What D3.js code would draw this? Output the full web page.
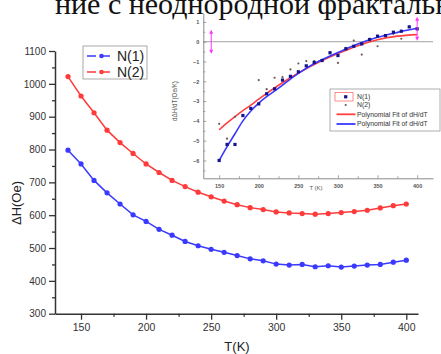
<!DOCTYPE html>
<html><head><meta charset="utf-8">
<script src="https://cdn.jsdelivr.net/npm/d3@7"></script>
<style>body{margin:0;background:#fff}svg{display:block}</style>
</head><body>
<svg id="c" width="441" height="354"></svg>
<script>
// ---------- data ----------
const temps = [140,150,160,170,180,190,200,210,220,230,240,250,260,270,280,290,300,310,320,330,340,350,360,370,380,390,400];
const n1 = [798,756,706,668,634,601,581,557,539,520,507,496,487,477,467,461,451,448,450,443,446,442,445,448,450,457,463];
const n2 = [1022,963,912,859,821,788,756,730,706,687,670,656,643,632,623,617,610,607,605,603,605,608,611,615,622,629,634];
const xTicks = [150,200,250,300,350,400];
const yTicks = [300,400,500,600,700,800,900,1000,1100];
const seriesNames = ["N(1)","N(2)"];

const dTemps = [150,160,170,180,190,200,210,220,230,240,250,260,270,280,290,300,310,320,330,340,350,360,370,380,390,400];
const d1 = [-6.0,-5.19,-5.19,-3.73,-3.37,-3.14,-2.63,-2.38,-1.94,-1.75,-1.52,-1.22,-1.05,-0.95,-0.56,-0.70,-0.36,-0.23,-0.11,0.11,0.28,0.31,0.48,0.53,0.75,0.65];
const d2 = [-4.15,-4.9,-3.79,-3.7,-3.35,-1.94,-2.4,-1.82,-1.79,-1.40,-1.10,-0.98,-0.98,-0.95,-0.53,-1.07,-0.31,0.06,-0.65,0.15,-0.23,0.28,0.40,0.15,0.75,0.62];
const fitT = [150,160,170,180,190,200,225,250,275,300,325,350,375,400];
const fitBlue = [-6.0,-5.3,-4.65,-4.0,-3.5,-3.1,-2.35,-1.6,-1.0,-0.55,-0.12,0.22,0.47,0.68];
const fitRed  = [-4.45,-4.1,-3.78,-3.48,-3.2,-2.9,-2.2,-1.58,-1.05,-0.6,-0.2,0.1,0.28,0.36];
const insetXTicks = [150,200,250,300,350,400];
const insetYTicks = [-6,-5,-4,-3,-2,-1,0,1];
const insetLegend = ["N(1)","N(2)","Polynomial Fit of dH/dT","Polynomial Fit of dH/dT"];
const cursorT = [140,400];
const cursorV = [0,0.65];

const title = "ние с неоднородной фрактальной";

// ---------- drawing ----------
const svg = d3.select("#c");
const BLUE = "#3a3aff", RED = "#ff3a3a";

// title (cut off at top)
svg.append("text").attr("x",55).attr("y",14)
  .attr("font-family","'Liberation Serif','Times New Roman',serif")
  .attr("font-size",30).attr("fill","#111").text(title);

// main scales
const x = d3.scaleLinear().domain([130,409]).range([55,418]);
const y = d3.scaleLinear().domain([300,1100]).range([313.7,51]);

const axisColor = "#333";
const fmt = d3.format("d");
const gx = svg.append("g").attr("transform","translate(0,313.7)");
gx.call(d3.axisBottom(x).tickValues(d3.range(175,409,50)).tickSize(3).tickFormat(""));
gx.call(g=>g.select(".domain").remove());
const gx2 = svg.append("g").attr("transform","translate(0,313.7)")
  .call(d3.axisBottom(x).tickValues(xTicks).tickFormat(fmt).tickSize(6).tickPadding(4).tickSizeOuter(0));
const gy0 = svg.append("g").attr("transform","translate(55,0)")
  .call(d3.axisLeft(y).tickValues(d3.range(350,1100,100)).tickSize(3).tickFormat(""));
gy0.select(".domain").remove();
const gy = svg.append("g").attr("transform","translate(55,0)")
  .call(d3.axisLeft(y).tickValues(yTicks).tickFormat(fmt).tickSize(6).tickPadding(3).tickSizeOuter(0));
[gx,gx2,gy0,gy].forEach(g=>{
  g.selectAll("line").attr("stroke",axisColor).attr("stroke-width",1.3);
  g.selectAll(".domain").attr("stroke",axisColor).attr("stroke-width",1.5);
  g.selectAll("text").attr("font-family","Arial,'Liberation Sans',sans-serif").attr("font-size",10.5).attr("fill","#333");
});
gy.selectAll("text").attr("font-size",10);

// axis labels
svg.append("text").attr("x",237).attr("y",351).attr("text-anchor","middle")
  .attr("font-family","Arial,'Liberation Sans',sans-serif").attr("font-size",13).attr("fill","#222").text("T(K)");
svg.append("text").attr("transform","translate(21,203) rotate(-90)").attr("text-anchor","middle")
  .attr("font-family","Arial,'Liberation Sans',sans-serif").attr("font-size",13).attr("fill","#222").text("ΔH(Oe)");

// series
const line = d3.line().x((d,i)=>x(temps[i])).y(d=>y(d));
[[n1,BLUE],[n2,RED]].forEach(([s,c])=>{
  svg.append("path").datum(s).attr("d",line).attr("fill","none").attr("stroke",c).attr("stroke-width",1.5);
  svg.append("g").selectAll("circle").data(s).join("circle")
    .attr("cx",(d,i)=>x(temps[i])).attr("cy",d=>y(d)).attr("r",2.6).attr("fill",c);
});

// main legend
const lg = svg.append("g");
lg.append("rect").attr("x",83).attr("y",46).attr("width",64).attr("height",33)
  .attr("fill","#fff").attr("stroke","#aaa").attr("stroke-width",1);
seriesNames.forEach((nm,i)=>{
  const yy = 56 + i*16, c = i? RED : BLUE;
  lg.append("line").attr("x1",87).attr("x2",115).attr("y1",yy).attr("y2",yy)
    .attr("stroke",c).attr("stroke-width",1.4).attr("stroke-dasharray","9,5");
  lg.append("circle").attr("cx",101.5).attr("cy",yy).attr("r",2.3).attr("fill",c);
  lg.append("text").attr("x",117).attr("y",yy+5).attr("font-family","Arial,'Liberation Sans',sans-serif")
    .attr("font-size",14).attr("fill","#222").text(nm);
});

// ---------- inset ----------
const ix = d3.scaleLinear().domain([130,420]).range([203.3,433]);
const iy = d3.scaleLinear().domain([-6.9,1.45]).range([178.3,13]);
const ig = svg.append("g");
const IAX = "#8a8a8a";
ig.append("line").attr("x1",ix(130)).attr("x2",ix(420)).attr("y1",iy(0)).attr("y2",iy(0))
  .attr("stroke","#b5b5b5").attr("stroke-width",1.3);
const igx0 = ig.append("g").attr("transform","translate(0,178.3)")
  .call(d3.axisBottom(ix).tickValues(d3.range(175,420,50)).tickSize(-2).tickFormat(""));
igx0.select(".domain").remove();
const igx = ig.append("g").attr("transform","translate(0,178.3)")
  .call(d3.axisBottom(ix).tickValues(insetXTicks).tickFormat(fmt).tickSize(-3).tickPadding(6).tickSizeOuter(0));
const igy0 = ig.append("g").attr("transform","translate(203.3,0)")
  .call(d3.axisLeft(iy).tickValues(d3.range(-6.5,1.45,1)).tickSize(-2).tickFormat(""));
igy0.select(".domain").remove();
const igy = ig.append("g").attr("transform","translate(203.3,0)")
  .call(d3.axisLeft(iy).tickValues(insetYTicks).tickFormat(fmt).tickSize(-3).tickPadding(4).tickSizeOuter(0));
[igx0,igx,igy0,igy].forEach(g=>{
  g.selectAll("line").attr("stroke",IAX).attr("stroke-width",0.8);
  g.selectAll(".domain").attr("stroke",IAX).attr("stroke-width",1);
  g.selectAll("text").attr("font-family","Arial,'Liberation Sans',sans-serif").attr("font-size",5.5)
    .attr("font-weight","bold").attr("fill","#555");
});
ig.append("text").attr("x",316).attr("y",190).attr("text-anchor","middle")
  .attr("font-family","Arial,'Liberation Sans',sans-serif").attr("font-size",6).attr("fill","#555").text("T (K)");
ig.append("text").attr("transform","translate(177,101) rotate(-90)").attr("text-anchor","middle")
  .attr("font-family","Arial,'Liberation Sans',sans-serif").attr("font-size",6.3).attr("fill","#555").text("dΔH/dT(Oe/K)");

const fitLine = d3.line().x((d,i)=>ix(fitT[i])).y(d=>iy(d)).curve(d3.curveMonotoneX);
ig.append("path").datum(fitRed).attr("d",fitLine).attr("fill","none").attr("stroke","#ff4040").attr("stroke-width",1.6);
ig.append("path").datum(fitBlue).attr("d",fitLine).attr("fill","none").attr("stroke","#3838ff").attr("stroke-width",1.6);
ig.append("g").selectAll("circle").data(d2).join("circle")
  .attr("cx",(d,i)=>ix(dTemps[i])).attr("cy",d=>iy(d)).attr("r",1.1).attr("fill","#6e5555");
ig.append("g").selectAll("rect").data(d1).join("rect")
  .attr("x",(d,i)=>ix(dTemps[i])-1.6).attr("y",d=>iy(d)-1.6).attr("width",3.2).attr("height",3.2).attr("fill","#14148c");

cursorT.forEach((t,i)=>{
  const cx = ix(t), cy = iy(cursorV[i]);
  ig.append("line").attr("x1",cx).attr("x2",cx).attr("y1",cy-10).attr("y2",cy+10)
    .attr("stroke","#ff33ff").attr("stroke-width",1);
  ig.append("path").attr("d",`M${cx-2},${cy-8}L${cx},${cy-12}L${cx+2},${cy-8}Z M${cx-2},${cy+8}L${cx},${cy+12}L${cx+2},${cy+8}Z`)
    .attr("fill","#ff33ff");
});

const il = ig.append("g");
il.append("rect").attr("x",330).attr("y",89).attr("width",110).attr("height",42)
  .attr("fill","#fff").attr("stroke","#999").attr("stroke-width",0.8);
il.append("rect").attr("x",335).attr("y",92.5).attr("width",18).attr("height",8.5)
  .attr("fill","none").attr("stroke","#ff7070").attr("stroke-width",0.8);
il.append("rect").attr("x",344.1).attr("y",95.2).attr("width",3.2).attr("height",3.2).attr("fill","#14148c");
il.append("circle").attr("cx",345.7).attr("cy",105).attr("r",1.1).attr("fill","#6e5555");
il.append("line").attr("x1",336.5).attr("x2",355.5).attr("y1",114.3).attr("y2",114.3).attr("stroke","#ff4040").attr("stroke-width",1.8);
il.append("line").attr("x1",336.5).attr("x2",355.5).attr("y1",124).attr("y2",124).attr("stroke","#3838ff").attr("stroke-width",1.8);
insetLegend.forEach((t,i)=>{
  il.append("text").attr("x",357).attr("y",[99,107.3,116.5,126.3][i])
    .attr("font-family","Arial,'Liberation Sans',sans-serif").attr("font-size",6.8).attr("fill","#333").text(t);
});
</script>
</body></html>
